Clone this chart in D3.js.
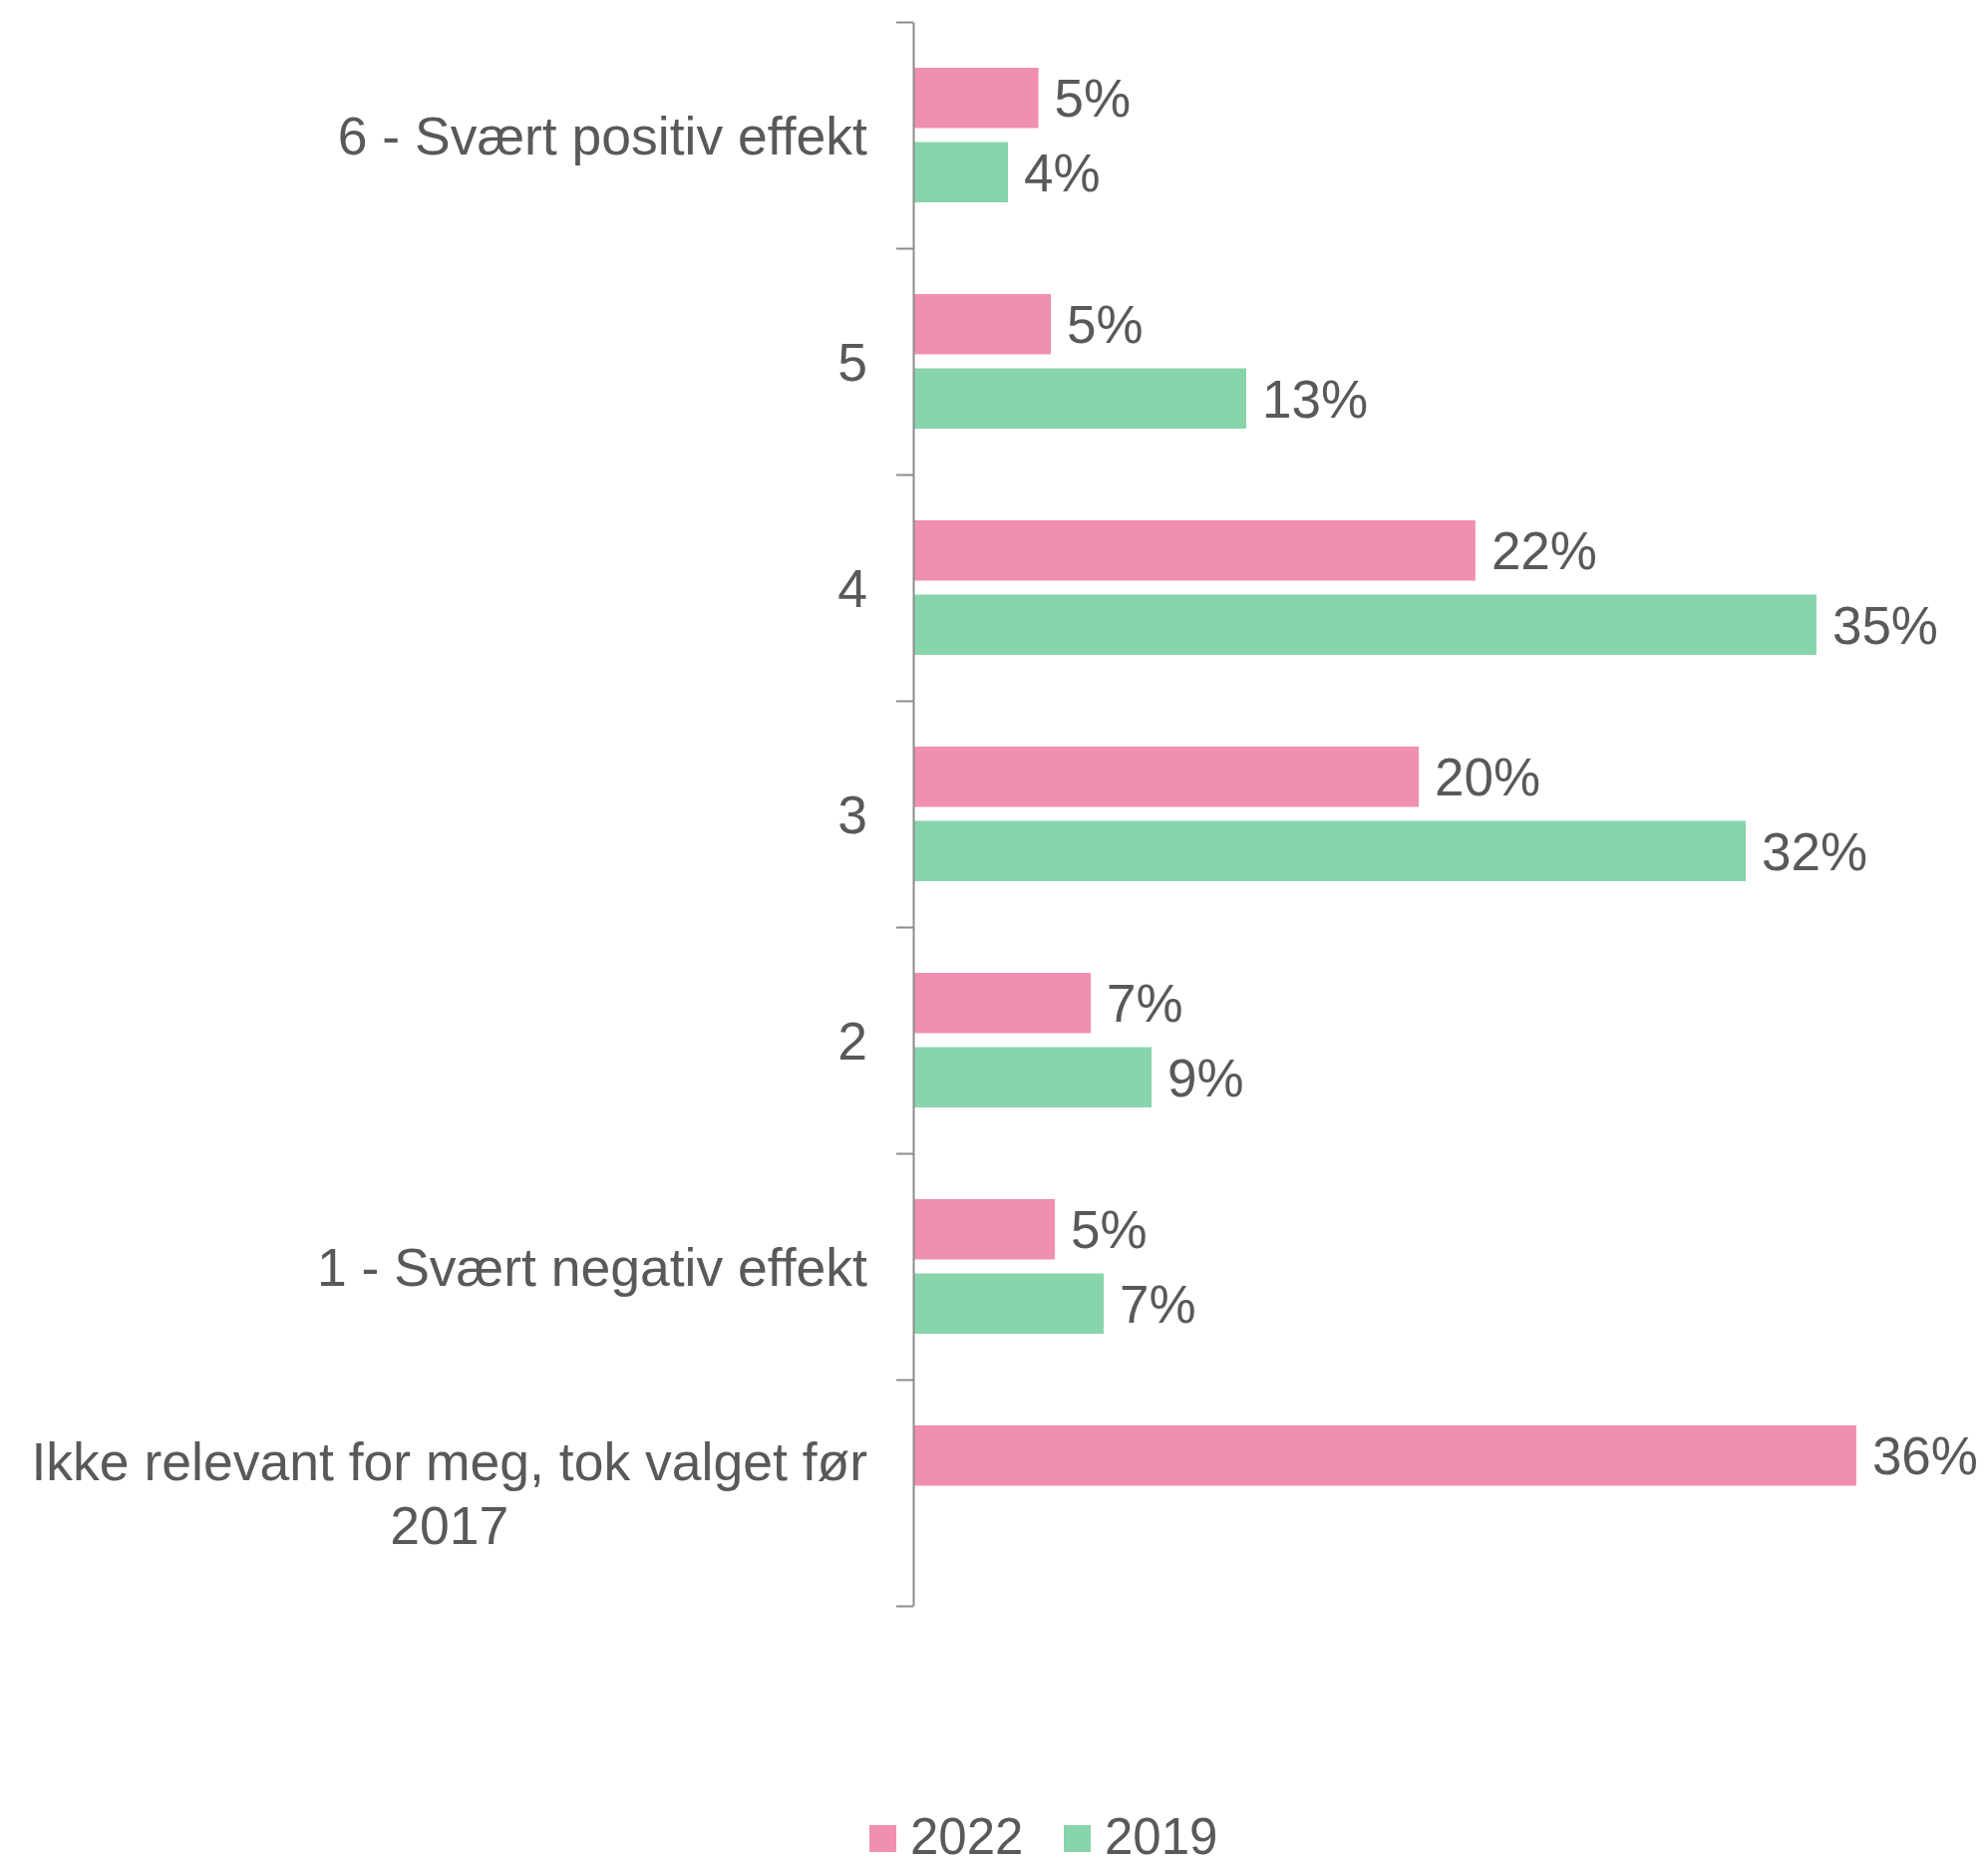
<!DOCTYPE html>
<html>
<head>
<meta charset="utf-8">
<script src="https://cdn.jsdelivr.net/npm/d3@7"></script>
<style>
  body { margin: 0; background: #fff; }
  text { font-family: "Liberation Sans", Arial, sans-serif; fill: #595959; }
</style>
</head>
<body>
<div id="chart"></div>
<script>
// categories top to bottom, labels can hold several lines
var categories = [
  ["6 - Svært positiv effekt"],
  ["5"],
  ["4"],
  ["3"],
  ["2"],
  ["1 - Svært negativ effekt"],
  ["Ikke relevant for meg, tok valget før", "2017"]
];
var seriesNames = ["2022", "2019"];
var values2022 = [0.0484, 0.0532, 0.2173, 0.1954, 0.0686, 0.0547, 0.3645];
var values2019 = [0.0366, 0.1287, 0.3491, 0.3218, 0.0921, 0.0736, null];
var seriesColors = ["#F090AE", "#88D4AB"];

var W = 1994, H = 1868;
var axisX = 916, plotTop = 22, plotBottom = 1611;

var svg = d3.select("#chart").append("svg")
    .attr("width", W)
    .attr("height", H);

var x = d3.scaleLinear().domain([0, 0.4]).range([axisX, 1954]);

var y0 = d3.scaleBand()
    .domain(d3.range(categories.length))
    .range([plotTop, plotBottom]);

var y1 = d3.scaleBand()
    .domain(seriesNames)
    .range([0, y0.bandwidth()])
    .paddingInner(0.188)
    .paddingOuter(0.617);

var fmt = d3.format(".0%");

var rows = categories.map(function(c, i) {
  return {
    index: i,
    label: c,
    bars: [
      {series: "2022", value: values2022[i], color: seriesColors[0]},
      {series: "2019", value: values2019[i], color: seriesColors[1]}
    ].filter(function(b) { return b.value != null; })
  };
});

var groups = svg.selectAll(".category")
    .data(rows)
  .enter().append("g")
    .attr("class", "category")
    .attr("transform", function(d) { return "translate(0," + y0(d.index) + ")"; });

groups.selectAll("rect")
    .data(function(d) { return d.bars; })
  .enter().append("rect")
    .attr("x", x(0))
    .attr("y", function(d) { return y1(d.series); })
    .attr("width", function(d) { return x(d.value) - x(0); })
    .attr("height", y1.bandwidth())
    .attr("fill", function(d) { return d.color; });

groups.selectAll(".value")
    .data(function(d) { return d.bars; })
  .enter().append("text")
    .attr("class", "value")
    .attr("x", function(d) { return x(d.value) + 16; })
    .attr("y", function(d) { return y1(d.series) + y1.bandwidth() / 2; })
    .attr("dy", "0.36em")
    .style("font-size", "53px")
    .text(function(d) { return fmt(d.value); });

// vertical axis with ticks on the band boundaries
var yEdge = d3.scaleLinear().domain([0, categories.length]).range([plotTop, plotBottom]);
var axis = svg.append("g")
    .attr("transform", "translate(" + axisX + ",0)")
    .call(d3.axisLeft(yEdge)
      .tickValues(d3.range(categories.length + 1))
      .tickSize(17)
      .tickSizeOuter(0)
      .tickFormat(""));
axis.selectAll("path, line")
    .attr("stroke", "#8c8c8c")
    .attr("stroke-width", 2);

// category labels, multi-line ones are centred on their longest line
var labelRight = 870, lineH = 64;
rows.forEach(function(r) {
  var cy = y0(r.index) + y0.bandwidth() / 2;
  var t = svg.append("text")
      .style("font-size", "53.5px");
  r.label.forEach(function(line, k) {
    t.append("tspan")
      .attr("y", cy + (k - (r.label.length - 1) / 2) * lineH)
      .attr("dy", "0.36em")
      .text(line);
  });
  if (r.label.length === 1) {
    t.attr("text-anchor", "end").selectAll("tspan").attr("x", labelRight);
  } else {
    var maxW = d3.max(t.selectAll("tspan").nodes(), function(n) { return n.getComputedTextLength(); });
    t.attr("text-anchor", "middle").selectAll("tspan").attr("x", labelRight - maxW / 2);
  }
});

// legend
var legendItems = [
  {name: seriesNames[0], color: seriesColors[0], x: 872},
  {name: seriesNames[1], color: seriesColors[1], x: 1067}
];
var legend = svg.selectAll(".legend")
    .data(legendItems)
  .enter().append("g")
    .attr("class", "legend")
    .attr("transform", function(d) { return "translate(" + d.x + ",1831)"; });
legend.append("rect")
    .attr("width", 27)
    .attr("height", 27)
    .attr("fill", function(d) { return d.color; });
legend.append("text")
    .attr("x", 41)
    .attr("y", 29)
    .style("font-size", "51px")
    .text(function(d) { return d.name; });
</script>
</body>
</html>
